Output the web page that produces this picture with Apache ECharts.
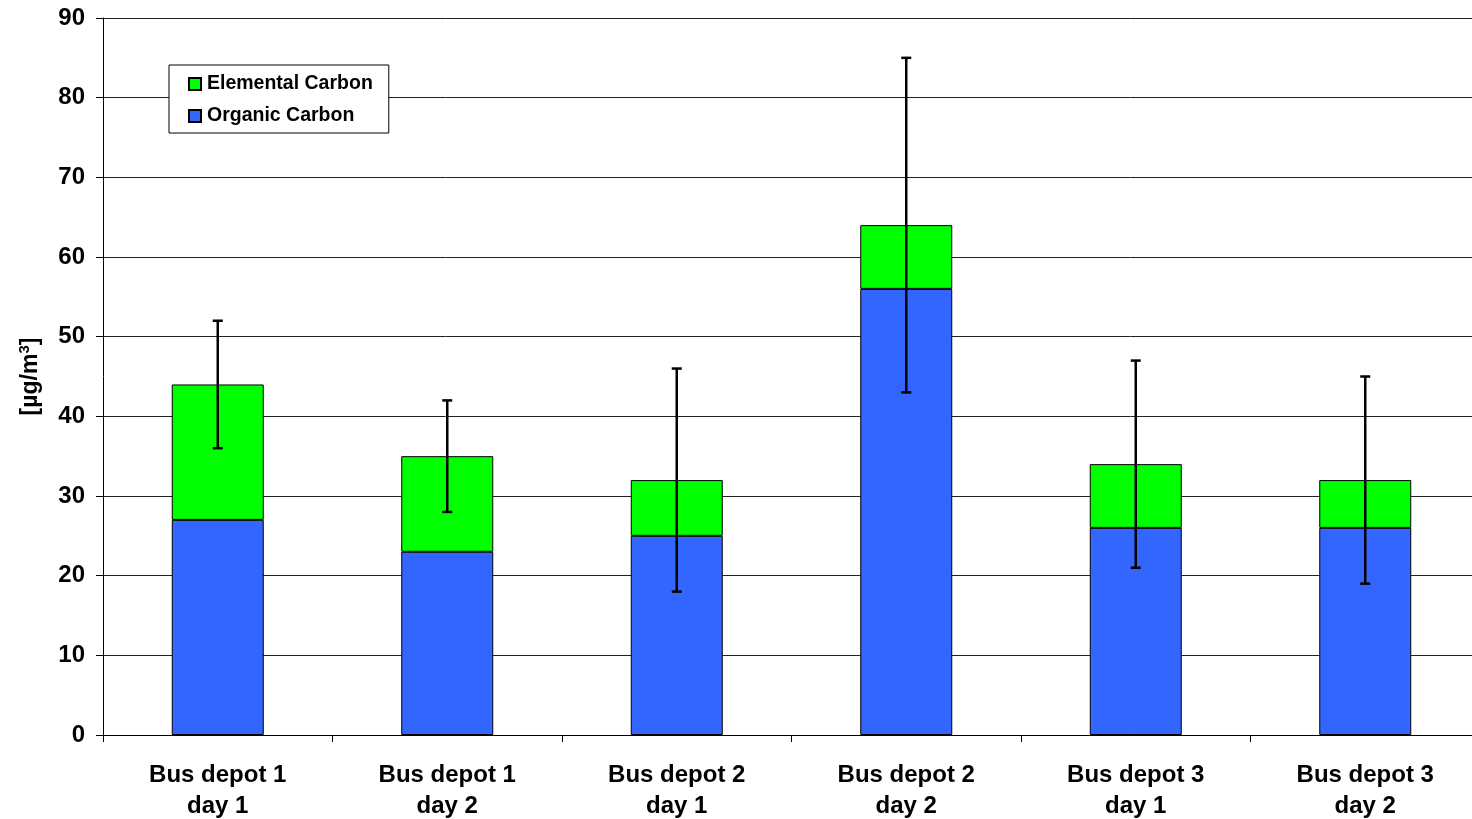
<!DOCTYPE html>
<html>
<head>
<meta charset="utf-8">
<script src="https://cdn.jsdelivr.net/npm/echarts@6/dist/echarts.min.js"></script>
<style>html,body{margin:0;padding:0;background:#fff}#c{width:1472px;height:819px}</style>
</head>
<body>
<div id="c"></div>
<script>
var categories = ['Bus depot 1\nday 1','Bus depot 1\nday 2','Bus depot 2\nday 1','Bus depot 2\nday 2','Bus depot 3\nday 1','Bus depot 3\nday 2'];
var organicCarbon = [27, 23, 25, 56, 26, 26];
var elementalCarbon = [17, 12, 7, 8, 8, 6];
var errorLow = [36, 28, 18, 43, 21, 19];
var errorHigh = [52, 42, 46, 85, 47, 45];
var yTicks = [0, 10, 20, 30, 40, 50, 60, 70, 80, 90];

var errData = categories.map(function(c, i){ return [i, errorLow[i], errorHigh[i]]; });

var chart = echarts.init(document.getElementById('c'));
var FONT = 'Liberation Sans, Arial, sans-serif';
chart.setOption({
  animation: false,
  grid: { left: 103, top: 18, width: 1377, height: 717, containLabel: false, outerBoundsMode: 'none' },
  legend: {
    left: 169, top: 65, orient: 'vertical',
    data: ['Elemental Carbon', 'Organic Carbon'],
    itemWidth: 12, itemHeight: 12, itemGap: 12,
    icon: 'rect',
    padding: [9, 16, 7, 19],
    borderColor: '#000', borderWidth: 1, backgroundColor: '#fff',
    textStyle: { fontFamily: FONT, fontWeight: 'bold', fontSize: 19.5, color: '#000', padding: [0,0,0,1] }
  },
  xAxis: {
    type: 'category', data: categories,
    axisLine: { lineStyle: { color: '#000', width: 1 } },
    axisTick: { show: true, length: 7, lineStyle: { color: '#000' }, alignWithLabel: false },
    axisLabel: { fontFamily: FONT, fontWeight: 'bold', fontSize: 24, color: '#000', margin: 25, lineHeight: 31, interval: 0 }
  },
  yAxis: {
    type: 'value', min: 0, max: 90, interval: 10,
    name: '{a|[µg/m}{s|3}{a|]}', nameLocation: 'middle', nameGap: 59, nameRotate: 90,
    nameTextStyle: { rich: {
      a: { fontFamily: FONT, fontWeight: 'bold', fontSize: 23, color: '#000' },
      s: { fontFamily: FONT, fontWeight: 'bold', fontSize: 15, color: '#000', verticalAlign: 'top', padding: [0,0,12,0] }
    } },
    axisLine: { show: true, lineStyle: { color: '#000', width: 1 } },
    axisTick: { show: true, length: 7, lineStyle: { color: '#000' } },
    axisLabel: { fontFamily: FONT, fontWeight: 'bold', fontSize: 24, color: '#000', margin: 18,
      formatter: function(v){ return yTicks.indexOf(v) >= 0 ? String(v) : ''; } },
    splitLine: { show: true, lineStyle: { color: '#222', width: 1 } }
  },
  series: [
    { name: 'Organic Carbon', type: 'bar', stack: 'c', data: organicCarbon, barWidth: 92,
      itemStyle: { color: '#3366FF', borderColor: '#000', borderWidth: 1 } },
    { name: 'Elemental Carbon', type: 'bar', stack: 'c', data: elementalCarbon, barWidth: 92,
      itemStyle: { color: '#00FF00', borderColor: '#000', borderWidth: 1 } },
    { name: 'err', type: 'custom', data: errData, z: 10,
      encode: { x: 0, y: [1, 2] },
      renderItem: function(params, api){
        var x = api.value(0);
        var lo = api.coord([x, api.value(1)]);
        var hi = api.coord([x, api.value(2)]);
        var hw = 5;
        var st = { stroke: '#000', lineWidth: 2.5 };
        return { type: 'group', children: [
          { type: 'line', shape: { x1: lo[0], y1: lo[1], x2: hi[0], y2: hi[1] }, style: st },
          { type: 'line', shape: { x1: lo[0]-hw, y1: lo[1], x2: lo[0]+hw, y2: lo[1] }, style: st },
          { type: 'line', shape: { x1: hi[0]-hw, y1: hi[1], x2: hi[0]+hw, y2: hi[1] }, style: st }
        ]};
      }
    }
  ]
});
</script>
</body>
</html>
